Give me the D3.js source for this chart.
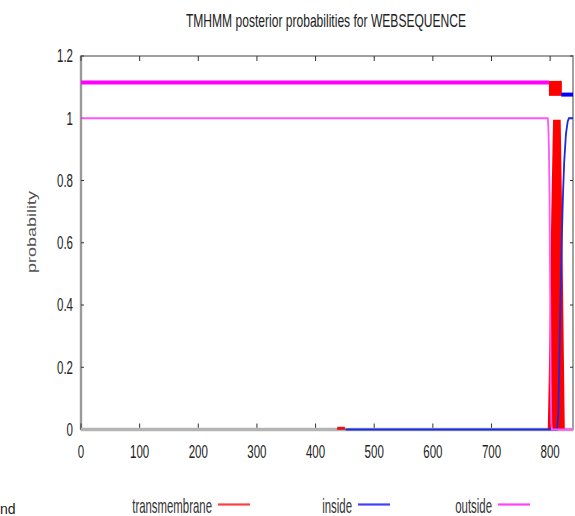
<!DOCTYPE html>
<html>
<head>
<meta charset="utf-8">
<script src="https://d3js.org/d3.v7.min.js"></script>
<style>
  html, body { margin: 0; padding: 0; background: #fff; }
  svg { display: block; }
  text { font-family: "Liberation Sans", Arial, sans-serif; }
</style>
</head>
<body>
<div id="chart"></div>
<script>
// TMHMM posterior probabilities, sequence length and axis ticks
const seqLength = 839;
const xTicks = [0, 100, 200, 300, 400, 500, 600, 700, 800];
const yTicks = [0, 0.2, 0.4, 0.6, 0.8, 1, 1.2];
const yTickLabels = ["0", "0.2", "0.4", "0.6", "0.8", "1", "1.2"];
const seriesNames = ["transmembrane", "inside", "outside"];

// predicted topology segments (residue ranges)
const topoTypes = ["outside", "TMhelix", "inside"];
const topoStart = [1, 798, 820];
const topoEnd = [798, 820, 839];

// posterior probability curves as [residue, probability]
const tmProb = [[436, 0], [437, 0.004], [450, 0.004], [451, 0],
  [796, 0], [798, 0.2], [800, 0.45], [802, 0.7], [804, 0.9], [805, 0.995],
  [818, 0.995], [820, 0.75], [822, 0.45], [824, 0.15], [825, 0]];
const insideProb = [[451, 0], [812, 0], [814, 0.05], [816, 0.25], [818, 0.45], [820, 0.62],
  [822, 0.76], [824, 0.86], [827, 0.95], [830, 0.99], [832, 1], [839, 1]];
const outsideProb = [[1, 1], [796, 1], [797, 0.97], [798, 0.9], [799, 0.75], [800, 0.45],
  [801, 0.15], [802, 0.02], [803, 0], [839, 0]];

const W = 575, H = 516;
const colors = { transmembrane: "#ff0000", inside: "#0000ff", outside: "#ff00ff" };

const svg = d3.select("#chart").append("svg").attr("width", W).attr("height", H);

const x = d3.scaleLinear().domain([0, seqLength]).range([81, 573]);
const y = d3.scaleLinear().domain([0, 1.2]).range([429.5, 56]);

// text squeezed horizontally by sx
function label(str, px, py, size, sx, anchor, fill, extra) {
  return svg.append("text")
    .attr("transform", `translate(${px},${py}) scale(${sx},1)` + (extra || ""))
    .attr("text-anchor", anchor)
    .attr("font-size", size)
    .attr("fill", fill)
    .text(str);
}

// title
label("TMHMM posterior probabilities for WEBSEQUENCE", 326, 27, 17.5, 0.69, "middle", "#222");

// frame
svg.append("rect")
  .attr("x", x(0)).attr("y", y(1.2))
  .attr("width", x(seqLength) - x(0)).attr("height", y(0) - y(1.2))
  .attr("fill", "none").attr("stroke", "#8a8a8a").attr("stroke-width", 1.6);
svg.append("line")
  .attr("x1", x(0)).attr("x2", x(0)).attr("y1", y(1.2)).attr("y2", y(0))
  .attr("stroke", "#9a9a9a").attr("stroke-width", 2.4);

// ticks on all four sides (pointing inward)
const tickG = svg.append("g").attr("stroke", "#333").attr("stroke-width", 1);
xTicks.forEach(t => {
  tickG.append("line").attr("x1", x(t)).attr("x2", x(t)).attr("y1", y(0)).attr("y2", y(0) - 6);
  tickG.append("line").attr("x1", x(t)).attr("x2", x(t)).attr("y1", y(1.2)).attr("y2", y(1.2) + 5);
});
yTicks.forEach(t => {
  tickG.append("line").attr("x1", x(0)).attr("x2", x(0) + 3).attr("y1", y(t)).attr("y2", y(t));
  tickG.append("line").attr("x1", x(seqLength)).attr("x2", x(seqLength) - 3).attr("y1", y(t)).attr("y2", y(t));
});

// tick labels
xTicks.forEach(t => label(String(t), x(t), 457.5, 18, 0.64, "middle", "#222"));
yTicks.forEach((t, i) => label(yTickLabels[i], 73, y(t) + 6.3, 18, 0.64, "end", "#222"));

// y-axis title
label("probability", 36, 232, 18, 0.66, "middle", "#555", " rotate(-90)");

// zero line along the bottom
svg.append("line")
  .attr("x1", x(0)).attr("x2", x(seqLength)).attr("y1", y(0)).attr("y2", y(0))
  .attr("stroke", "#b4b4b4").attr("stroke-width", 3.5);

// predicted topology drawn above the curves
const topoLevel = { outside: 1.115, inside: 1.076 };
topoTypes.forEach((type, i) => {
  if (type === "TMhelix") {
    svg.append("rect")
      .attr("x", x(topoStart[i])).attr("y", y(1.12))
      .attr("width", x(topoEnd[i]) - x(topoStart[i]))
      .attr("height", y(1.072) - y(1.12))
      .attr("fill", colors.transmembrane);
  } else {
    svg.append("line")
      .attr("x1", x(topoStart[i] - 1)).attr("x2", x(topoEnd[i]))
      .attr("y1", y(topoLevel[type])).attr("y2", y(topoLevel[type]))
      .attr("stroke", colors[type]).attr("stroke-width", 4);
  }
});

// transmembrane probability (filled); near-zero stretches get a visible stroke
const area = d3.area().x(d => x(d[0])).y0(y(0)).y1(d => y(d[1]));
svg.append("path").datum(tmProb)
  .attr("d", area).attr("fill", colors.transmembrane);
svg.append("path").datum(tmProb)
  .attr("d", d3.line().defined(d => d[1] > 0 && d[1] < 0.05).x(d => x(d[0])).y(d => y(d[1])))
  .attr("fill", "none").attr("stroke", "#e01818").attr("stroke-width", 3);

const line = d3.line().x(d => x(d[0])).y(d => y(d[1]));
// inside probability
svg.append("path").datum(insideProb)
  .attr("d", line).attr("fill", "none")
  .attr("stroke", "#1a2ae0").attr("stroke-width", 1.8);
// outside probability
svg.append("path").datum(outsideProb)
  .attr("d", line).attr("fill", "none")
  .attr("stroke", "#ff55ff").attr("stroke-width", 1.8);

// legend
seriesNames.forEach((name, i) => {
  const tx = 212 + i * 140;
  label(name, tx, 512.5, 20, 0.57, "end", "#333");
  svg.append("line")
    .attr("x1", tx + 6).attr("x2", tx + 38).attr("y1", 504.5).attr("y2", 504.5)
    .attr("stroke", colors[name]).attr("stroke-width", 2.2).attr("stroke-opacity", 0.75);
});

// partial word at the lower-left edge
svg.append("text").attr("x", 0).attr("y", 514)
  .attr("font-size", 14).attr("fill", "#222").text("nd");
</script>
</body>
</html>
